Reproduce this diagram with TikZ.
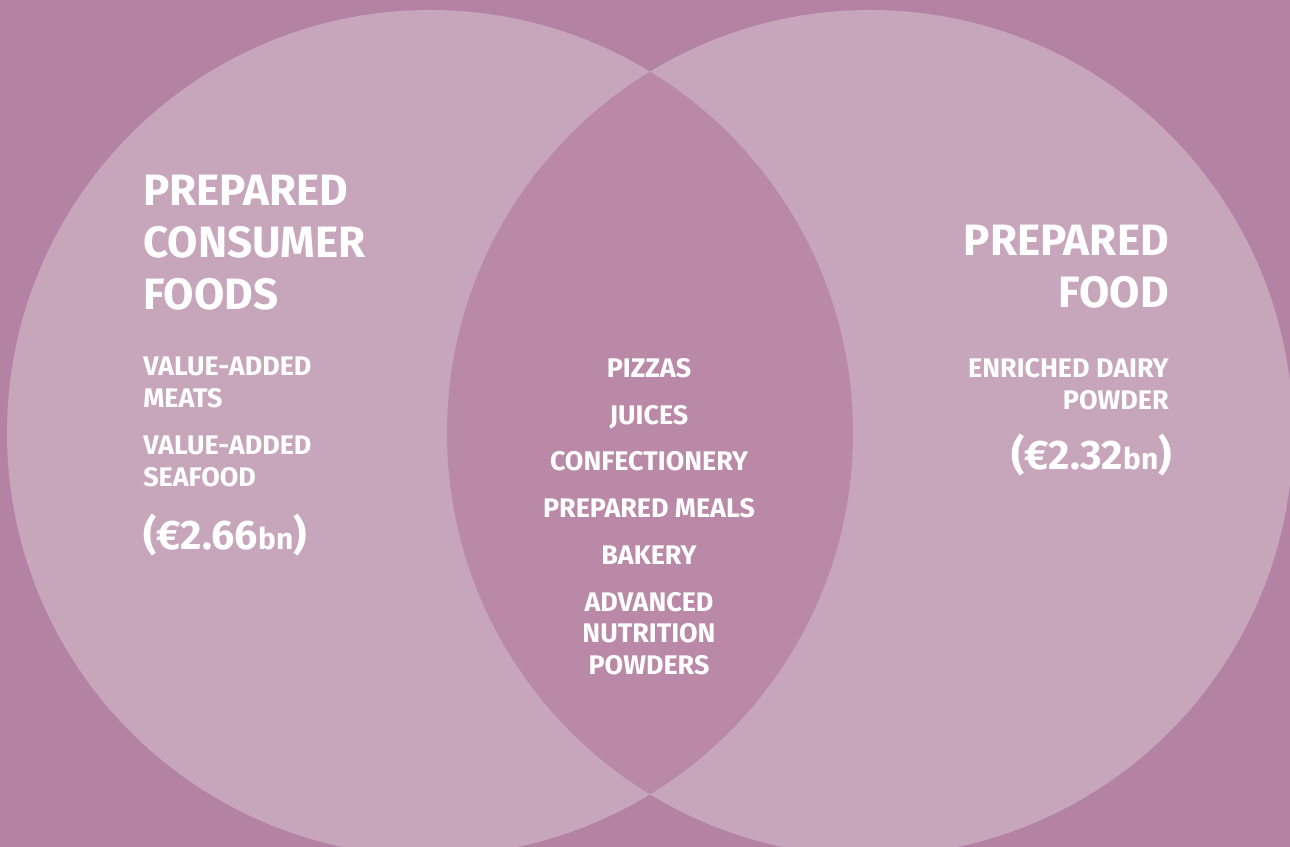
\documentclass[tikz,border=0pt]{standalone}
\usepackage{fontspec}
\setmainfont{Fira Sans}
\usepackage{xcolor}
\definecolor{bgplum}{HTML}{B483A4}
\definecolor{circplum}{HTML}{C7A5BB}
\definecolor{midplum}{HTML}{B989A7}

\tikzset{
  title/.style={text=white, inner sep=0pt, font=\bfseries\fontsize{25}{29.5}\selectfont},
  items/.style={text=white, inner sep=0pt, font=\bfseries\fontsize{15.3}{18.1}\selectfont},
  price/.style={text=white, inner sep=0pt, font=\bfseries\fontsize{23.5}{28}\selectfont}
}
\newcommand{\bnsmall}{{\fontsize{17}{20}\selectfont bn}}

\begin{document}
\begin{tikzpicture}[x=0.02cm, y=-0.02cm]
  % Background with fixed size
  \fill[bgplum] (0,0) rectangle (1290,847);
  \useasboundingbox (0,0) rectangle (1290,847);

  % Draw the two circles
  \fill[circplum] (430,433) circle (423);
  \fill[circplum] (870,433) circle (423);

  % Fill in the overlap
  \begin{scope}
    \clip (430,433) circle (423);
    \fill[midplum] (870,433) circle (423);
  \end{scope}

  % Left circle
  \node[title, anchor=north west, align=left] (lefttitle) at (143,175)
    {PREPARED\\CONSUMER\\FOODS};
  \node[items, anchor=north west, align=left] (leftitems) at (143,357)
    {VALUE-ADDED\\MEATS\\[8.5pt]VALUE-ADDED\\SEAFOOD};
  \node[price, anchor=base west] (leftprice) at (143,549) {(€2.66\bnsmall)};

  % Overlap
  \node[items, anchor=north, align=center] (miditems) at (649,358)
    {PIZZAS\\[8.5pt]JUICES\\[8.5pt]CONFECTIONERY\\[8.5pt]PREPARED MEALS\\[8.5pt]BAKERY\\[8.5pt]ADVANCED\\NUTRITION\\POWDERS};

  % Right circle
  \node[title, anchor=north east, align=right] (righttitle) at (1169,225)
    {PREPARED\\FOOD};
  \node[items, anchor=north east, align=right] (rightitems) at (1169,358)
    {ENRICHED DAIRY\\POWDER};
  \node[price, anchor=base east] (rightprice) at (1172,469) {(€2.32\bnsmall)};
\end{tikzpicture}
\end{document}
